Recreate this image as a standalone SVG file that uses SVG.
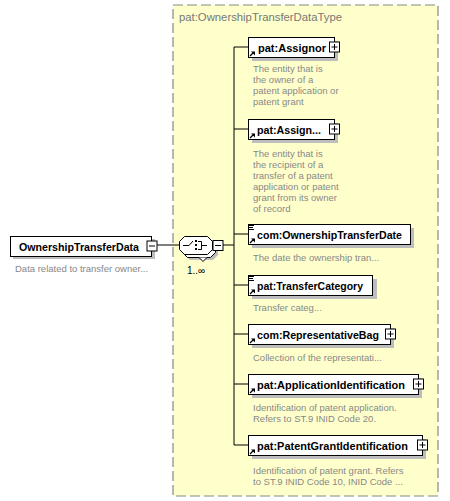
<svg xmlns="http://www.w3.org/2000/svg" width="450" height="501" viewBox="0 0 450 501">
<defs>
<style>
.name{font-family:"Liberation Sans",Arial,sans-serif;font-size:11.5px;font-weight:bold;fill:#000}
.desc{font-family:"Liberation Sans",Arial,sans-serif;font-size:9.5px;fill:#888}
.box{fill:#fff;stroke:#000;stroke-width:1}
.shadow{fill:#bdbdbd}
.ln{stroke:#000;stroke-width:1;fill:none}
.icon{fill:#fff;stroke:#000;stroke-width:1}
</style>
<g id="plus"><rect class="icon" x="-5" y="-5" width="10" height="10"/><path class="ln" d="M-3,0H3M0,-3V3"/></g>
<g id="minus"><rect class="icon" x="-5" y="-5" width="10" height="10"/><path class="ln" d="M-3,0H3"/></g>
<g id="ref"><path d="M1,6 L4,3" stroke="#000" stroke-width="1.2"/><path d="M2,1.5 H6 V5.5 Z" fill="#000"/></g>
<g id="txt"><path d="M0,0.5H5M0,2.5H4M0,4.5H5" stroke="#000" stroke-width="1"/></g>
</defs>
<rect x="0" y="0" width="450" height="501" fill="#fff"/>
<g id="type">
<rect x="173" y="5" width="265" height="491" fill="#ffffcc" stroke="#888" stroke-width="1.2" stroke-dasharray="10,4"/>
<text x="179" y="21" font-family="'Liberation Sans',Arial,sans-serif" font-size="11px" fill="#777" textLength="163" lengthAdjust="spacingAndGlyphs">pat:OwnershipTransferDataType</text>
</g>
<g id="connectors">
<path class="ln" d="M157,245H179"/>
<path class="ln" d="M212,245H213"/>
<path class="ln" d="M223,245H234"/>
<path class="ln" d="M234,47V445"/>
<path class="ln" d="M234,47H248M234,129H248M234,234H248M234,285H248M234,334H248M234,384H248M234,445H248"/>
</g>
<g id="root">
<rect class="shadow" x="13" y="239" width="142" height="20"/>
<rect class="box" x="10.5" y="236.5" width="141" height="20"/>
<text class="name" x="19" y="250.5" textLength="120" lengthAdjust="spacingAndGlyphs">OwnershipTransferData</text>
<use href="#minus" x="152" y="246"/>
<text class="desc" x="15" y="272">Data related to transfer owner...</text>
</g>
<g id="sequence">
<path class="shadow" d="M190,242H213L218,247V255L213,260H190L185,255V247Z"/>
<path class="box" d="M187.5,239.5H210.5L215.5,244.5V252.5L210.5,257.5H187.5L182.5,252.5V244.5Z"/>
<path d="M199,257.5L203,261.5L207,257.5" fill="#fff" stroke="#000"/>
<path class="box" d="M184.5,236.5H207.5L212.5,241.5V249.5L207.5,254.5H184.5L179.5,249.5V241.5Z"/>
<path class="ln" d="M183,245.5H189L193,241"/>
<rect x="195" y="240" width="2" height="2" fill="#000"/>
<rect x="195" y="244" width="2" height="2" fill="#000"/>
<rect x="195" y="248" width="2" height="2" fill="#000"/>
<path class="ln" d="M198,241.5H201.5V249.5H198M201.5,245.5H207"/>
<use href="#minus" x="218" y="245.5"/>
<text x="187" y="274" font-family="'Liberation Sans',Arial,sans-serif" font-size="10px" fill="#000">1..∞</text>
</g>
<g id="assignor">
<rect class="shadow" x="252" y="41" width="86" height="20"/>
<rect class="box" x="248.5" y="37.5" width="86" height="20"/>
<use href="#ref" x="249" y="50"/>
<text class="name" x="258" y="51.5" textLength="68" lengthAdjust="spacingAndGlyphs">pat:Assignor</text>
<use href="#plus" x="334.5" y="47"/>
<text class="desc" x="253" y="72">The entity that is</text>
<text class="desc" x="253" y="83">the owner of a</text>
<text class="desc" x="253" y="94">patent application or</text>
<text class="desc" x="253" y="105">patent grant</text>
</g>
<g id="assignee">
<rect class="shadow" x="252" y="123" width="86" height="20"/>
<rect class="box" x="248.5" y="119.5" width="86" height="20"/>
<use href="#ref" x="249" y="132"/>
<text class="name" x="257" y="133.5" textLength="64" lengthAdjust="spacingAndGlyphs">pat:Assign...</text>
<use href="#plus" x="334.5" y="129"/>
<text class="desc" x="253" y="157">The entity that is</text>
<text class="desc" x="253" y="168">the recipient of a</text>
<text class="desc" x="253" y="179">transfer of a patent</text>
<text class="desc" x="253" y="190">application or patent</text>
<text class="desc" x="253" y="201">grant from its owner</text>
<text class="desc" x="253" y="212">of record</text>
</g>
<g id="date">
<rect class="shadow" x="252" y="228" width="162" height="20"/>
<rect class="box" x="248.5" y="224.5" width="162" height="20"/>
<use href="#txt" x="249" y="225"/>
<use href="#ref" x="249" y="237"/>
<text class="name" x="257" y="238.5" textLength="145" lengthAdjust="spacingAndGlyphs">com:OwnershipTransferDate</text>
<text class="desc" x="253" y="261">The date the ownership tran...</text>
</g>
<g id="category">
<rect class="shadow" x="252" y="279" width="125" height="20"/>
<rect class="box" x="248.5" y="275.5" width="124" height="20"/>
<use href="#txt" x="249" y="276"/>
<use href="#ref" x="249" y="288"/>
<text class="name" x="257" y="289.5" textLength="106" lengthAdjust="spacingAndGlyphs">pat:TransferCategory</text>
<text class="desc" x="253" y="311">Transfer categ...</text>
</g>
<g id="representative">
<rect class="shadow" x="252" y="328" width="142" height="20"/>
<rect class="box" x="248.5" y="324.5" width="142" height="20"/>
<use href="#ref" x="249" y="337"/>
<text class="name" x="257" y="338.5" textLength="122" lengthAdjust="spacingAndGlyphs">com:RepresentativeBag</text>
<use href="#plus" x="390.5" y="334"/>
<text class="desc" x="253" y="361">Collection of the representati...</text>
</g>
<g id="application">
<rect class="shadow" x="252" y="378" width="170" height="20"/>
<rect class="box" x="248.5" y="374.5" width="170" height="20"/>
<use href="#ref" x="249" y="387"/>
<text class="name" x="257" y="388.5" textLength="148" lengthAdjust="spacingAndGlyphs">pat:ApplicationIdentification</text>
<use href="#plus" x="418.5" y="384"/>
<text class="desc" x="253" y="411">Identification of patent application.</text>
<text class="desc" x="253" y="422">Refers to ST.9 INID Code 20.</text>
</g>
<g id="grant">
<rect class="shadow" x="252" y="439" width="174" height="20"/>
<rect class="box" x="248.5" y="435.5" width="174" height="20"/>
<use href="#ref" x="249" y="448"/>
<text class="name" x="257" y="449.5" textLength="151" lengthAdjust="spacingAndGlyphs">pat:PatentGrantIdentification</text>
<use href="#plus" x="422.5" y="445"/>
<text class="desc" x="253" y="474">Identification of patent grant. Refers</text>
<text class="desc" x="253" y="485">to ST.9 INID Code 10, INID Code ...</text>
</g>
</svg>
